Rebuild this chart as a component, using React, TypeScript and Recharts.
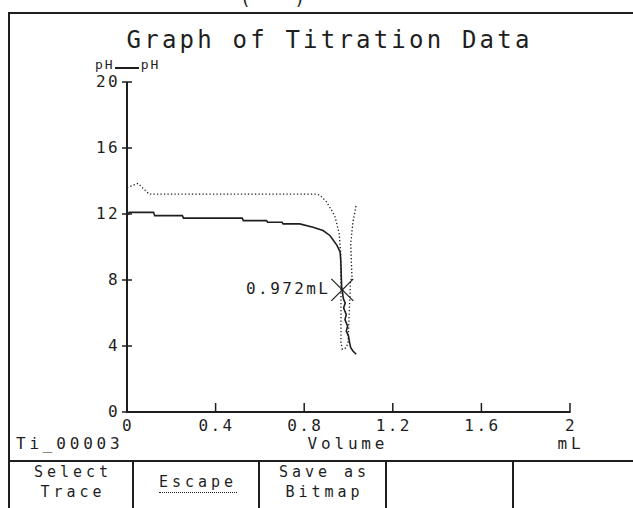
import { LineChart, Line, XAxis, YAxis, ReferenceDot } from "recharts";

const FONT = "'DejaVu Sans Mono', monospace";
const INK = "#1e1e1e";

const xTicks = [0, 0.4, 0.8, 1.2, 1.6, 2];
const yTicks = [0, 4, 8, 12, 16, 20];

// measured pH trace (solid)
const solidVolume = [
  0, 0.01, 0.12, 0.125, 0.25, 0.255, 0.52, 0.525, 0.63, 0.635, 0.7, 0.705, 0.78, 0.84, 0.885, 0.916,
  0.948, 0.962, 0.965, 0.969, 0.972, 0.976, 0.985, 0.978, 0.99, 0.984, 0.996, 0.99, 1.0, 1.005, 1.01,
  1.02, 1.035,
];
const solidPH = [
  11.9, 12.1, 12.1, 11.9, 11.9, 11.75, 11.75, 11.6, 11.6, 11.5, 11.5, 11.4, 11.4, 11.2, 11.0, 10.7,
  10.1, 9.7, 9.2, 7.6, 7.4, 6.9, 6.6, 6.3, 5.9, 5.6, 5.2, 4.9, 4.6, 4.2, 3.9, 3.7, 3.5,
];

// second trace (dotted)
const dottedVolume = [
  0, 0.05, 0.1, 0.85, 0.87, 0.9, 0.925, 0.94, 0.958, 0.965, 0.966, 0.966, 0.972, 0.99, 0.998, 1.007,
  1.009, 1.016, 1.01, 1.02, 1.034,
];
const dottedPH = [
  13.6, 13.85, 13.2, 13.2, 13.15, 12.75, 12.2, 11.8, 10.8, 9.6, 7.2, 4.2, 3.8, 3.9, 4.2, 7.2, 8.0, 8.1,
  10.2, 11.5, 12.5,
];

const endpointVolume = 0.972;
const endpointPH = 7.4;
const endpointLabel = "0.972mL";

const buttonLabels = [["Select", "Trace"], ["Escape"], ["Save as", "Bitmap"], [], []];
const buttonEdges = [8, 132, 258, 385, 512, 640];

const solidData = solidVolume.map((v, i) => ({ v, ph: solidPH[i] }));
const dottedData = dottedVolume.map((v, i) => ({ v, ph: dottedPH[i] }));

function Txt({ x, y, size, children, align = "left", spacing = 0 }: any) {
  const style: any = {
    position: "absolute",
    top: y,
    fontFamily: FONT,
    fontSize: size,
    letterSpacing: spacing,
    lineHeight: 1,
    color: INK,
    whiteSpace: "pre",
  };
  if (align === "center") {
    style.left = x - 200 + spacing / 2;
    style.width = 400;
    style.textAlign = "center";
  } else {
    style.left = x;
  }
  return <div style={style}>{children}</div>;
}

function XTick({ x, y, payload }: any) {
  return (
    <g>
      <line x1={x} x2={x} y1={y - 9} y2={y + 1} stroke={INK} strokeWidth={1.5} />
      <text x={x + 1} y={y + 14} textAnchor="middle" dominantBaseline="middle" fontFamily={FONT} fontSize={16} letterSpacing={2.4} fill={INK}>
        {payload.value}
      </text>
    </g>
  );
}

function YTick({ x, y, payload }: any) {
  return (
    <g>
      <line x1={x - 5} x2={x + 5} y1={y} y2={y} stroke={INK} strokeWidth={1.5} />
      <text x={x - 7} y={y} textAnchor="end" dominantBaseline="middle" fontFamily={FONT} fontSize={16} letterSpacing={2.4} fill={INK}>
        {payload.value}
      </text>
    </g>
  );
}

function EndMark({ cx, cy }: any) {
  return (
    <g>
      <line x1={cx - 11} y1={cy - 11} x2={cx + 11} y2={cy + 11} stroke={INK} strokeWidth={1.2} />
      <line x1={cx - 11} y1={cy + 11} x2={cx + 11} y2={cy - 11} stroke={INK} strokeWidth={1.2} />
      <text x={cx - 12} y={cy} textAnchor="end" dominantBaseline="middle" fontFamily={FONT} fontSize={16} letterSpacing={2.4} fill={INK}>
        {endpointLabel}
      </text>
    </g>
  );
}

export default function App() {
  return (
    <div style={{ position: "absolute", left: 0, top: 0, width: 633, height: 508, overflow: "hidden", background: "#fff" }}>
      <Txt x={240} y={-10} size={18}>{"(    )"}</Txt>
      <div style={{ position: "absolute", left: 8, top: 12, width: 700, height: 600, borderLeft: `2px solid ${INK}`, borderTop: `2px solid ${INK}` }} />
      <div style={{ position: "absolute", left: 8, top: 460, width: 700, height: 2, background: INK }} />
      {buttonEdges.slice(1, 5).map((x) => (
        <div key={x} style={{ position: "absolute", left: x, top: 460, width: 2, height: 60, background: INK }} />
      ))}
      {buttonLabels.map((lines, i) => {
        const cx = (buttonEdges[i] + buttonEdges[i + 1]) / 2 + 1;
        if (lines.length === 1) {
          return (
            <Txt key={i} x={cx} y={475} size={15} align="center" spacing={4}>
              <span style={{ borderBottom: `1.5px dotted ${INK}`, paddingBottom: 1 }}>{lines[0]}</span>
            </Txt>
          );
        }
        return lines.map((t, j) => (
          <Txt key={i + "-" + j} x={cx} y={465 + j * 20} size={15} align="center" spacing={4}>
            {t}
          </Txt>
        ));
      })}

      <Txt x={325} y={28} size={24} align="center" spacing={3.2}>Graph of Titration Data</Txt>
      <div style={{ position: "absolute", left: 95, top: 58, fontFamily: FONT, fontSize: 13, letterSpacing: 2, color: INK, lineHeight: 1, display: "flex", alignItems: "center" }}>
        <span>pH</span>
        <span style={{ display: "inline-block", width: 24, height: 1.5, background: INK, marginTop: 7, marginRight: 2 }} />
        <span>pH</span>
      </div>
      <Txt x={16} y={436} size={16} spacing={3.8}>Ti_00003</Txt>
      <Txt x={346} y={436} size={16} align="center" spacing={3.8}>Volume</Txt>
      <Txt x={569} y={436} size={16} align="center" spacing={3.8}>mL</Txt>

      <div style={{ position: "absolute", left: 0, top: 0 }}>
        <LineChart width={633} height={508} margin={{ top: 82, right: 63, left: 7, bottom: 56 }}>
          <XAxis
            type="number"
            dataKey="v"
            domain={[0, 2]}
            ticks={xTicks}
            height={40}
            tickSize={0}
            tickMargin={0}
            tickLine={false}
            axisLine={{ stroke: INK, strokeWidth: 2 }}
            tick={<XTick />}
            interval={0}
          />
          <YAxis
            type="number"
            dataKey="ph"
            domain={[0, 20]}
            ticks={yTicks}
            width={120}
            tickSize={0}
            tickMargin={0}
            tickLine={false}
            axisLine={{ stroke: INK, strokeWidth: 2 }}
            tick={<YTick />}
            interval={0}
          />
          <Line
            data={dottedData}
            dataKey="ph"
            type="linear"
            stroke={INK}
            strokeWidth={1.3}
            strokeDasharray="1.3 2.2"
            dot={false}
            isAnimationActive={false}
          />
          <Line
            data={solidData}
            dataKey="ph"
            type="linear"
            stroke={INK}
            strokeWidth={1.6}
            dot={false}
            isAnimationActive={false}
          />
          <ReferenceDot x={endpointVolume} y={endpointPH} r={0} shape={<EndMark />} />
        </LineChart>
      </div>
    </div>
  );
}
